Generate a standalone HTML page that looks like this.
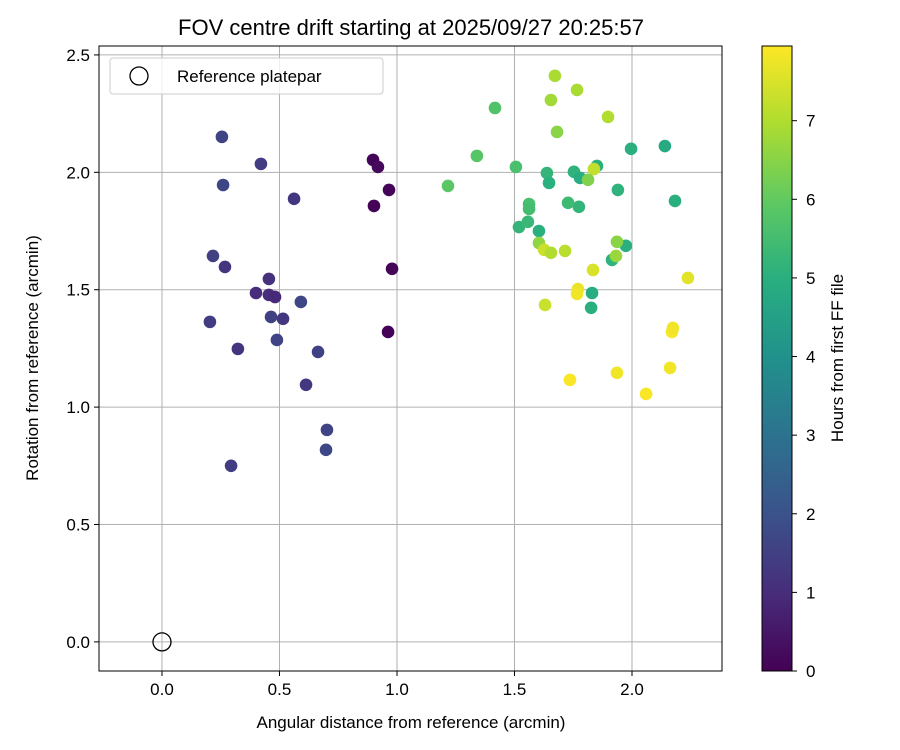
<!DOCTYPE html>
<html><head><meta charset="utf-8"><style>
body{margin:0;background:#fff;}
svg{display:block;font-family:"Liberation Sans","DejaVu Sans",sans-serif;}
</style></head><body>
<svg id="chart" width="900" height="750" viewBox="0 0 900 750">
<defs>
<linearGradient id="vir" x1="0" y1="1" x2="0" y2="0">
<stop offset="0" stop-color="#440154"/><stop offset="0.125" stop-color="#472d7b"/><stop offset="0.25" stop-color="#3b528b"/><stop offset="0.375" stop-color="#2c728e"/><stop offset="0.5" stop-color="#21918c"/><stop offset="0.625" stop-color="#28ae80"/><stop offset="0.75" stop-color="#5ec962"/><stop offset="0.875" stop-color="#addc30"/><stop offset="1" stop-color="#fde725"/>
</linearGradient>
</defs>
<text x="411" y="35" font-size="22" text-anchor="middle">FOV centre drift starting at 2025/09/27 20:25:57</text>
<g id="grid"></g>
<g id="ticks"></g>
<g id="points"></g>
<rect x="99" y="46" width="623" height="625" fill="none" stroke="#000" stroke-width="1"/>
<text x="411" y="728" font-size="17" text-anchor="middle">Angular distance from reference (arcmin)</text>
<text transform="translate(38,358) rotate(-90)" font-size="17" text-anchor="middle">Rotation from reference (arcmin)</text>
<g>
<rect x="110" y="58" width="273" height="36" fill="#fff" fill-opacity="0.8" stroke="#ccc" rx="3"/>
<circle cx="139" cy="76" r="9" fill="none" stroke="#000" stroke-width="1.3"/>
<text x="177" y="82" font-size="17">Reference platepar</text>
</g>
<rect x="762" y="46" width="30" height="625" fill="url(#vir)" stroke="#000" stroke-width="1"/>
<g id="cbticks"></g>
<text transform="translate(843,358) rotate(-90)" font-size="17" text-anchor="middle">Hours from first FF file</text>
</svg>
<script>
const xTicks=[0,0.5,1.0,1.5,2.0];
const xTickLabels=["0.0","0.5","1.0","1.5","2.0"];
const yTicks=[0,0.5,1.0,1.5,2.0,2.5];
const yTickLabels=["0.0","0.5","1.0","1.5","2.0","2.5"];
const cbTicks=[0,1,2,3,4,5,6,7];
const xs=[0.898,0.919,0.966,0.902,0.979,0.962,
0.255,0.421,0.260,0.562,0.217,0.268,0.400,0.455,0.455,0.481,0.591,0.464,0.515,0.204,0.323,0.489,0.664,0.613,0.702,0.698,0.294,
1.217,1.340,1.417,1.506,1.562,1.562,1.519,1.557,
1.604,1.638,1.647,1.753,1.779,1.774,1.728,1.851,1.940,1.996,2.140,2.183,1.915,1.974,1.830,1.826,
1.672,1.655,1.766,1.898,1.681,1.604,1.626,1.655,1.715,1.838,1.813,1.936,1.932,1.630,
1.834,1.770,1.766,1.736,1.936,2.060,2.162,2.170,2.174,2.238];
const ys=[2.053,2.023,1.925,1.857,1.589,1.320,
2.151,2.036,1.946,1.887,1.644,1.597,1.486,1.546,1.478,1.469,1.448,1.384,1.376,1.363,1.248,1.286,1.235,1.095,0.903,0.818,0.750,
1.942,2.070,2.274,2.023,1.865,1.844,1.767,1.789,
1.750,1.997,1.955,2.002,1.976,1.853,1.870,2.027,1.925,2.100,2.112,1.878,1.627,1.687,1.486,1.423,
2.411,2.308,2.351,2.236,2.172,1.699,1.670,1.657,1.665,2.014,1.968,1.704,1.644,1.435,
1.584,1.503,1.482,1.116,1.146,1.056,1.167,1.320,1.337,1.550];
const hours=[0.1,0.2,0.1,0.05,0.1,0.05,
1.6,1.4,1.7,1.3,1.5,1.2,1.0,1.1,1.0,0.9,1.7,1.5,1.3,1.4,1.2,1.6,1.5,1.3,1.6,1.7,1.4,
5.9,5.8,5.7,5.6,5.6,5.5,5.2,5.3,
5.0,5.2,5.0,5.1,4.9,5.2,5.4,5.0,5.1,5.0,4.8,5.0,5.1,5.0,4.9,5.0,
6.9,6.8,6.9,7.0,6.5,6.6,7.3,7.0,7.1,7.2,6.4,6.5,6.7,7.3,
7.5,7.7,7.8,7.9,7.8,7.9,7.8,7.9,7.8,7.6];
const NS="http://www.w3.org/2000/svg";
const X0=-0.268,X1=2.383,Y0=-0.124,Y1=2.538,HMAX=7.95;
const sx=v=>99+(v-X0)/(X1-X0)*623;
const sy=v=>671-(v-Y0)/(Y1-Y0)*625;
const sc=h=>671-h/HMAX*625;
const stops=["#440154","#472d7b","#3b528b","#2c728e","#21918c","#28ae80","#5ec962","#addc30","#fde725"];
function hex(c){return [1,3,5].map(i=>parseInt(c.substr(i,2),16));}
function vir(t){t=Math.max(0,Math.min(1,t))*8;const i=Math.min(7,Math.floor(t)),f=t-i;const a=hex(stops[i]),b=hex(stops[i+1]);return "rgb("+a.map((v,k)=>Math.round(v+(b[k]-v)*f)).join(",")+")";}
function mk(tag,attrs,parent){const e=document.createElementNS(NS,tag);for(const k in attrs)e.setAttribute(k,attrs[k]);parent.appendChild(e);return e;}
const grid=document.getElementById("grid"),ticks=document.getElementById("ticks"),pts=document.getElementById("points"),cb=document.getElementById("cbticks");
xTicks.forEach((v,i)=>{
 const g=mk("line",{x1:sx(v),x2:sx(v),y1:46,y2:671,stroke:"#b0b0b0","stroke-width":1},grid);
 
 
 mk("line",{x1:sx(v),x2:sx(v),y1:671,y2:676,stroke:"#000"},ticks);
 const t=mk("text",{x:sx(v),y:695,"font-size":17,"text-anchor":"middle"},ticks);t.textContent=xTickLabels[i];
 
 
});
yTicks.forEach((v,i)=>{
 const g=mk("line",{x1:99,x2:722,y1:sy(v),y2:sy(v),stroke:"#b0b0b0","stroke-width":1},grid);
 
 
 mk("line",{x1:94,x2:99,y1:sy(v),y2:sy(v),stroke:"#000"},ticks);
 const t=mk("text",{x:90,y:sy(v)+6,"font-size":17,"text-anchor":"end"},ticks);t.textContent=yTickLabels[i];
 
 
});
cbTicks.forEach(v=>{
 mk("line",{x1:792,x2:797,y1:sc(v),y2:sc(v),stroke:"#000"},cb);
 const t=mk("text",{x:806,y:sc(v)+6,"font-size":17},cb);t.textContent=String(v);
 
 
});
xs.forEach((x,i)=>{
 const c=mk("circle",{cx:sx(x),cy:sy(ys[i]),r:6.3,fill:vir(hours[i]/HMAX)},pts);
 
 
});
const ref=mk("circle",{cx:sx(0),cy:sy(0),r:9,fill:"none",stroke:"#000","stroke-width":1.3},pts);


</script>
</body></html>
